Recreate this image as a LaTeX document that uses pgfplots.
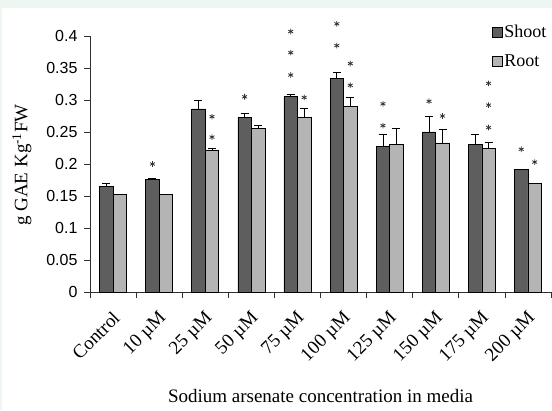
\documentclass[border=0pt]{standalone}
\usepackage{fontspec}
\setmainfont{Liberation Serif}
\newfontfamily\sansnum{Liberation Sans}
\usepackage{pgfplots}
\pgfplotsset{compat=1.18}
\usepackage{pgfplotstable}

\definecolor{frame}{HTML}{EEF6F2}
\definecolor{shoot}{HTML}{5E5E5E}
\definecolor{root}{HTML}{B4B4B4}
\definecolor{axisgray}{HTML}{303030}

% cat  mean   err
\pgfplotstableread{
x  y      e
0  0.165  0.005
1  0.176  0.001
2  0.286  0.013
3  0.273  0.006
4  0.306  0.002
5  0.334  0.009
6  0.228  0.018
7  0.250  0.025
8  0.230  0.016
9  0.191  0.001
}\shoottable
\pgfplotstableread{
x  y      e
0  0.152  0.001
1  0.153  0.000
2  0.222  0.003
3  0.256  0.005
4  0.273  0.014
5  0.290  0.014
6  0.231  0.025
7  0.233  0.021
8  0.224  0.009
9  0.170  0.000
}\roottable
% significance stars (shoot at x-0.146, root at x+0.146)
\pgfplotstableread{
x      y
0.854  0.200
2.146  0.274
2.146  0.242
2.854  0.305
3.854  0.407
3.854  0.374
3.854  0.339
4.146  0.304
4.854  0.419
4.854  0.385
5.146  0.357
5.146  0.323
5.854  0.294
5.854  0.260
6.854  0.298
7.146  0.275
8.146  0.326
8.146  0.292
8.146  0.257
8.854  0.223
9.146  0.203
}\startable

% half a bar, in category units (6.75pt / 46.1pt)
\def\halfbar{0.14642}

\begin{document}
\begin{tikzpicture}[x=1pt,y=1pt]
  \fill[frame] (0,0) rectangle (552,410);
  \fill[white] (2,0) rectangle (552,402);
  \begin{axis}[
    at={(90pt,118pt)}, anchor=south west,
    x=46.1pt, y=640pt,
    xmin=-0.5, xmax=9.5, ymin=0, ymax=0.4,
    clip=false,
    axis x line*=bottom, axis y line*=left,
    axis line style={axisgray, line width=0.8pt},
    ytick={0,0.05,...,0.4},
    yticklabels={0,0.05,0.1,0.15,0.2,0.25,0.3,0.35,0.4},
    xtick={0,...,9},
    xticklabels={Control,10 µM,25 µM,50 µM,75 µM,100 µM,125 µM,150 µM,175 µM,200 µM},
    minor xtick={-0.5,0.5,...,9.5},
    tick align=outside,
    major tick length=6pt, minor tick length=6pt,
    tick style={axisgray, line width=0.8pt},
    major x tick style={draw=none},
    minor x tick style={draw=axisgray},
    /pgf/number format/assume math mode=true,
    yticklabel style={font=\sansnum\fontsize{16}{18}\selectfont, xshift=-3pt},
    xticklabel style={font=\fontsize{19}{21}\selectfont, rotate=45, anchor=north east, xshift=-6pt, yshift=-4pt},
    ylabel={g GAE Kg\textsuperscript{-1}FW},
    ylabel style={font=\fontsize{19}{21}\selectfont, at={(axis description cs:-0.1475,0.496)}, anchor=center, rotate=0},
    xlabel={Sodium arsenate concentration in media},
    xlabel style={font=\fontsize{19}{21}\selectfont, at={(axis description cs:0.5,-0.43)}, anchor=base},
    legend style={at={(axis description cs:0.871,1.05)}, anchor=north west, draw=none, fill=none,
      font=\fontsize{18}{20}\selectfont, row sep=11pt, inner sep=0pt,
      /tikz/every even column/.append style={column sep=6pt}},
    legend cell align=left,
    legend image code/.code={\draw[#1, draw=black, line width=0.6pt] (1pt,-5pt) rectangle (11pt,5pt);},
    errstyle/.style={draw=none, mark=none, forget plot,
      error bars/.cd, y dir=plus, y explicit,
      error bar style={black, line width=0.8pt},
      error mark options={rotate=90, mark size=4pt, line width=0.8pt}},
  ]
    \addplot[ybar, bar width=13.5pt, bar shift=-6.75pt,
      fill=shoot, draw=black, line width=0.7pt]
      table[x=x, y=y] {\shoottable};
    \addlegendentry{Shoot}
    \addplot[ybar, bar width=13.5pt, bar shift=6.75pt,
      fill=root, draw=black, line width=0.7pt]
      table[x=x, y=y] {\roottable};
    \addlegendentry{Root}
    % error bars centred on each bar
    \addplot[errstyle] table[x expr=\thisrow{x}-\halfbar, y=y, y error=e] {\shoottable};
    \addplot[errstyle] table[x expr=\thisrow{x}+\halfbar, y=y, y error=e] {\roottable};
    \addplot[only marks, mark=asterisk, mark size=2.8pt,
      mark options={line width=0.8pt, draw=black!80}, forget plot]
      table[x=x, y=y] {\startable};
  \end{axis}
  \pgfresetboundingbox
  \useasboundingbox (0,0) rectangle (552,410);
\end{tikzpicture}
\end{document}
